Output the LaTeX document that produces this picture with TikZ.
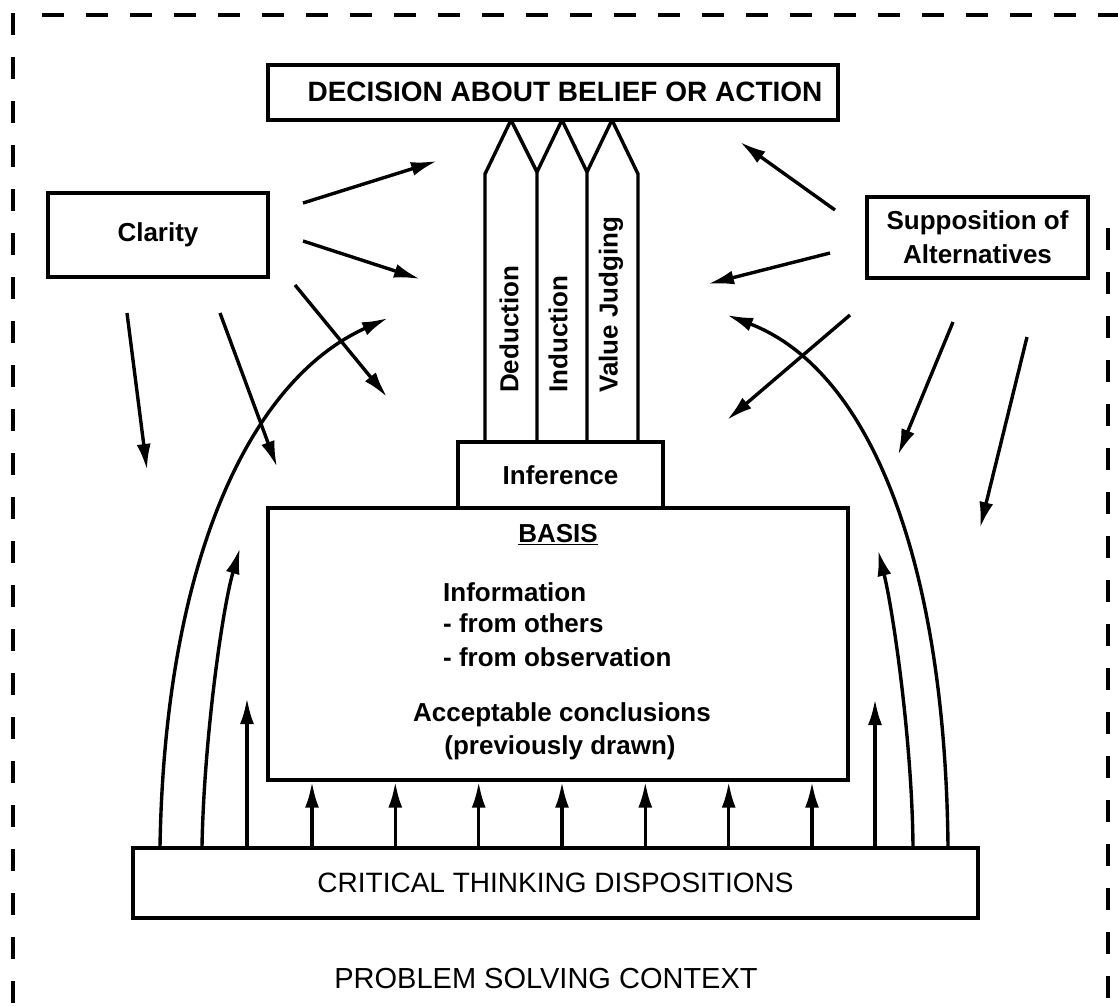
\documentclass[tikz,border=0pt]{standalone}
\usepackage{fontspec}
\setmainfont{Liberation Sans}
\usetikzlibrary{arrows.meta}
\begin{document}
\begin{tikzpicture}[x=1pt,y=-1pt,
  box/.style={draw, line width=3.4pt, inner sep=0pt},
  arr/.style={line width=3.4pt, -{Latex[length=26pt,width=14pt]}},
  lbl/.style={font=\fontsize{26}{34}\selectfont\bfseries, inner sep=0pt},
  reg/.style={font=\fontsize{28}{34}\selectfont, inner sep=0pt},
  frame/.style={line width=3.8pt, dash pattern=on 22pt off 22pt},
  pencil/.style={draw, line width=3.4pt, line join=round},
]
\useasboundingbox (0,0) rectangle (1118,1005);
% frame
\draw[frame] (13,13) -- (13,1005);
\draw[frame] (42,15) -- (1118,15);
\draw[frame] (1108,228) -- (1108,1005);

% boxes
\node[box, minimum width=570pt, minimum height=55pt] (decision) at (553,92.5) {};
\node[lbl, font=\fontsize{28}{34}\selectfont\bfseries] (tdec) at (565,92) {DECISION ABOUT BELIEF OR ACTION};
\node[box, lbl, minimum width=220pt, minimum height=84pt] (clarity) at (158,235) {Clarity};
\node[box, lbl, align=center, minimum width=221pt, minimum height=81pt] (supp) at (977.5,237.5) {Supposition of\\Alternatives};
\node[box, lbl, minimum width=205pt, minimum height=66pt] (inference) at (560.5,475) {Inference};
\node[box, minimum width=580pt, minimum height=272pt] (basis) at (558,644) {};
\node[box, reg, minimum width=845pt, minimum height=70pt] (ctd) at (555.5,883) {CRITICAL THINKING DISPOSITIONS};
\node[reg, font=\fontsize{29}{34}\selectfont] (psc) at (546,978) {PROBLEM SOLVING CONTEXT};

% basis text
\node[lbl] (btitle) at (558,535) {\underline{BASIS}};
\node[lbl, anchor=west] (binfo) at (443,592) {Information};
\node[lbl, anchor=west] (bothers) at (443,623) {- from others};
\node[lbl, anchor=west] (bobs) at (443,657) {- from observation};
\node[lbl] (bacc) at (562,715) {Acceptable conclusions};
\node[lbl] (bprev) at (560,748) {(previously drawn)};

% pencils
\draw[pencil] (485,442) -- (485,174) -- (511,120) -- (537,172) -- (537,442);
\draw[pencil] (537,172) -- (562,120) -- (587,172) -- (587,442);
\draw[pencil] (587,172) -- (612,120) -- (638,174) -- (638,442);
\node[lbl, rotate=90, anchor=west] (ded) at (509,393) {Deduction};
\node[lbl, rotate=90, anchor=west] (ind) at (558,393) {Induction};
\node[lbl, rotate=90, anchor=west] (val) at (611,393) {Value Judging};

% arrows from Clarity
\coordinate (ca1) at (303,203); \coordinate (cb1) at (437,161);
\coordinate (ca2) at (303,241); \coordinate (cb2) at (420,279);
\coordinate (ca3) at (295,285); \coordinate (cb3) at (387,397);
\coordinate (ca4) at (127,313); \coordinate (cb4) at (147,470);
\coordinate (ca5) at (220,313); \coordinate (cb5) at (277,467);
\foreach \i in {1,...,5} \draw[arr] (ca\i) -- (cb\i);

% arrows from Supposition
\coordinate (sa1) at (835,210); \coordinate (sb1) at (740,142);
\coordinate (sa2) at (830,253); \coordinate (sb2) at (708,284);
\coordinate (sa3) at (850,315); \coordinate (sb3) at (727,420);
\coordinate (sa4) at (953,322); \coordinate (sb4) at (898,455);
\coordinate (sa5) at (1027,337); \coordinate (sb5) at (980,528);
\foreach \i in {1,...,5} \draw[arr] (sa\i) -- (sb\i);

% arrows from dispositions to basis
\foreach \x in {312,395.3,478.7,562,645.3,728.7,812}
  \draw[arr] (ctd.north -| \x,0) -- (basis.south -| \x,0);

% side arrows from dispositions
\coordinate (lt) at (247,698);
\coordinate (rt) at (875,699);
\coordinate (lm) at (240,548);
\coordinate (rm) at (878,550);
\coordinate (lo) at (388,318);
\coordinate (ro) at (727,315);
\draw[arr] (ctd.north -| lt) -- (lt);
\draw[arr] (ctd.north -| rt) -- (rt);
\draw[arr] (ctd.north -| 202,0) .. controls (204,740) and (222,610) .. (lm);
\draw[arr] (ctd.north -| 913,0) .. controls (912,740) and (893,610) .. (rm);
\draw[arr] (ctd.north -| 160,0) .. controls (165,560) and (250,380) .. (lo);
\draw[arr] (ctd.north -| 948,0) .. controls (945,560) and (870,370) .. (ro);
\end{tikzpicture}
\end{document}
